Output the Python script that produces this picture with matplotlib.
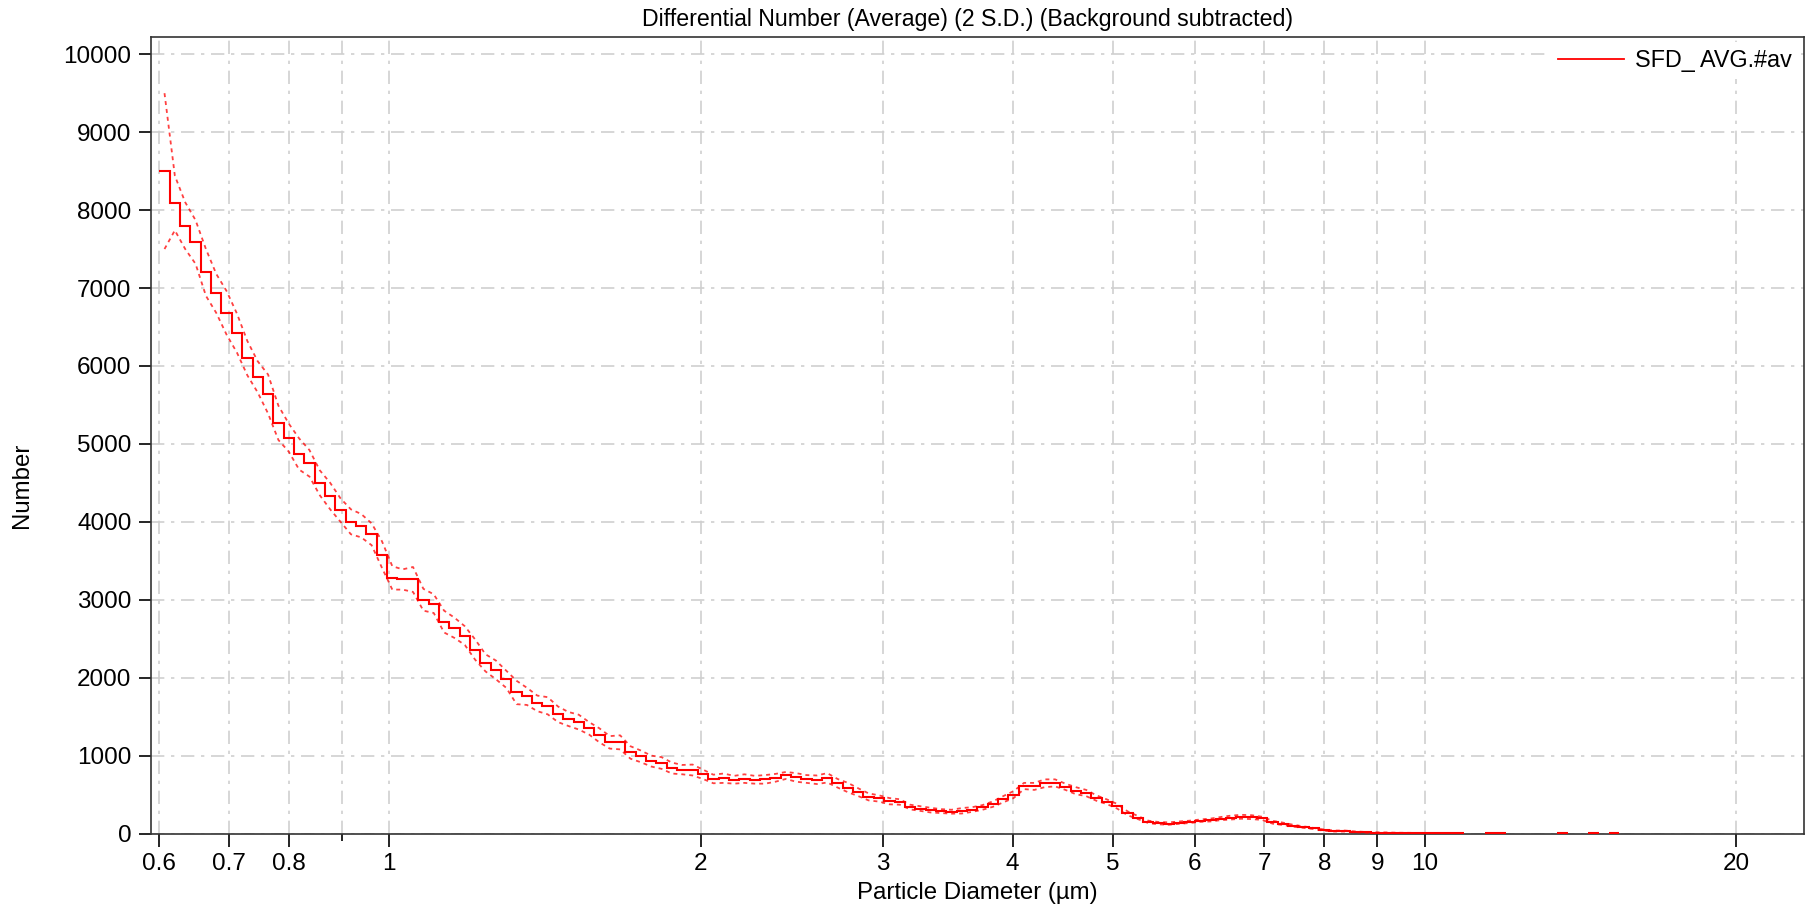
import numpy as np
import matplotlib
matplotlib.use("Agg")
import matplotlib.pyplot as plt
from matplotlib.ticker import FixedLocator, FixedFormatter, NullFormatter

plt.rcParams['font.family'] = ['Liberation Sans', 'DejaVu Sans']

# ---- data ----
bin_start = 0.6          # first bin edge (µm)
bin_width_dec = 0.01     # bin width in decades
mean_counts = [8500, 8090, 7800, 7590, 7200, 6930, 6680, 6420, 6100, 5860,
               5640, 5270, 5080, 4870, 4750, 4500, 4330, 4150, 4000, 3950,
               3840, 3580, 3280, 3260, 3260, 3000, 2950, 2720, 2640, 2540,
               2360, 2190, 2100, 1980, 1810, 1760, 1670, 1640, 1530, 1470,
               1430, 1350, 1260, 1170, 1170, 1040, 990, 930, 905, 840,
               820, 815, 760, 700, 710, 690, 705, 690, 695, 715,
               745, 720, 700, 690, 715, 645, 590, 530, 470, 450,
               415, 405, 340, 320, 300, 288, 280, 292, 308, 335,
               378, 440, 500, 610, 605, 645, 650, 600, 550, 520,
               455, 408, 350, 260, 205, 150, 133, 128, 140, 150,
               165, 173, 192, 205, 215, 210, 195, 145, 125, 100,
               82, 65, 43, 32, 32, 22, 15, 12, 10, 7,
               6, 5, 5, 4, 5, 2, 0, 0, 4, 3,
               0, 0, 0, 0, 0, 3, 0, 0, 3, 0,
               3, 0]
two_sd = [1000, 350, 300, 280, 300, 250, 280, 250, 220, 200,
          250, 220, 180, 200, 170, 160, 170, 150, 160, 150,
          140, 170, 150, 130, 160, 140, 120, 140, 130, 120,
          130, 110, 120, 110, 150, 110, 100, 110, 100, 90,
          95, 80, 90, 80, 90, 80, 75, 70, 75, 70,
          60, 70, 60, 55, 60, 50, 55, 50, 55, 50,
          45, 55, 50, 55, 60, 55, 60, 50, 45, 40,
          40, 35, 30, 30, 30, 25, 25, 35, 30, 30,
          35, 40, 45, 40, 45, 50, 45, 40, 45, 40,
          35, 30, 30, 25, 20, 15, 15, 15, 15, 15,
          15, 18, 20, 25, 25, 25, 20, 18, 15, 12,
          10, 8, 8, 6, 6, 5, 5, 4, 4, 3,
          3, 3, 3, 2, 3, 2, 0, 0, 3, 2,
          0, 0, 0, 0, 0, 2, 0, 0, 2, 0,
          2, 0]

x_major = [0.6, 0.7, 0.8, 1, 2, 3, 4, 5, 6, 7, 8, 9, 10, 20]
x_major_labels = ['0.6', '0.7', '0.8', '1', '2', '3', '4', '5', '6', '7', '8', '9', '10', '20']
x_minor = [0.9]
y_ticks = [0, 1000, 2000, 3000, 4000, 5000, 6000, 7000, 8000, 9000, 10000]

title = "Differential Number (Average) (2 S.D.) (Background subtracted)"
series_name = "SFD_ AVG.#av"

# ---- derived arrays ----
mean = np.array(mean_counts, dtype=float)
sd = np.array(two_sd, dtype=float)
n = len(mean)
edges = bin_start * 10 ** (bin_width_dec * np.arange(n + 1))
centers = np.sqrt(edges[:-1] * edges[1:])
mean_m = np.where(mean > 0, mean, np.nan)
upper = np.where(mean > 0, mean + sd, np.nan)
lower = np.where(mean > 0, np.clip(mean - sd, 0, None), np.nan)

# ---- figure ----
fig = plt.figure(figsize=(18.14, 9.07), dpi=100)
ax = fig.add_axes([0.0832, 0.081, 0.9113, 0.8777])

red = '#ff0000'
ax.plot(centers, upper, color=red, lw=1.3, ls=(0, (2.2, 2.2)), alpha=0.75, zorder=3)
ax.plot(centers, lower, color=red, lw=1.3, ls=(0, (2.2, 2.2)), alpha=0.75, zorder=3)
ax.stairs(mean_m, edges, baseline=None, color=red, lw=1.5, zorder=4, label=series_name)

ax.set_xscale('log')
ax.set_xlim(0.5889, 23.25)
ax.set_ylim(0, 10215)

ax.xaxis.set_major_locator(FixedLocator(x_major))
ax.xaxis.set_major_formatter(FixedFormatter(x_major_labels))
ax.xaxis.set_minor_locator(FixedLocator(x_minor))
ax.xaxis.set_minor_formatter(NullFormatter())
ax.yaxis.set_major_locator(FixedLocator(y_ticks))
ax.yaxis.set_minor_locator(FixedLocator([]))

ax.tick_params(axis='both', which='major', direction='out', length=9, width=1.2,
               labelsize=17.5, colors='black', pad=5)
ax.tick_params(axis='x', which='minor', direction='out', length=5, width=1.2)

grid_style = dict(color='#cfcfcf', lw=1.2, ls=(0, (8, 4, 2, 4)))
ax.grid(True, which='major', axis='both', **grid_style)
ax.grid(True, which='minor', axis='x', **grid_style)
ax.set_axisbelow(True)

for s in ax.spines.values():
    s.set_color('#333333')
    s.set_linewidth(1.2)

ax.set_xlabel("Particle Diameter (µm)", fontsize=17.3, labelpad=5)
ax.set_ylabel("Number", fontsize=17.3)
ax.yaxis.set_label_coords(-0.0713, 0.437)
ax.set_title(title, fontsize=16.7, pad=8, x=0.4937)

leg = ax.legend(loc='upper right', fontsize=16.8, frameon=True, framealpha=1,
                facecolor='white', edgecolor='none', handlelength=2.8,
                handletextpad=0.5, borderpad=0.3, borderaxespad=0.2)
leg.get_frame().set_linewidth(0)
for h in leg.legend_handles:
    h.set_linewidth(1.3)

fig.savefig("out.png", dpi=100)
